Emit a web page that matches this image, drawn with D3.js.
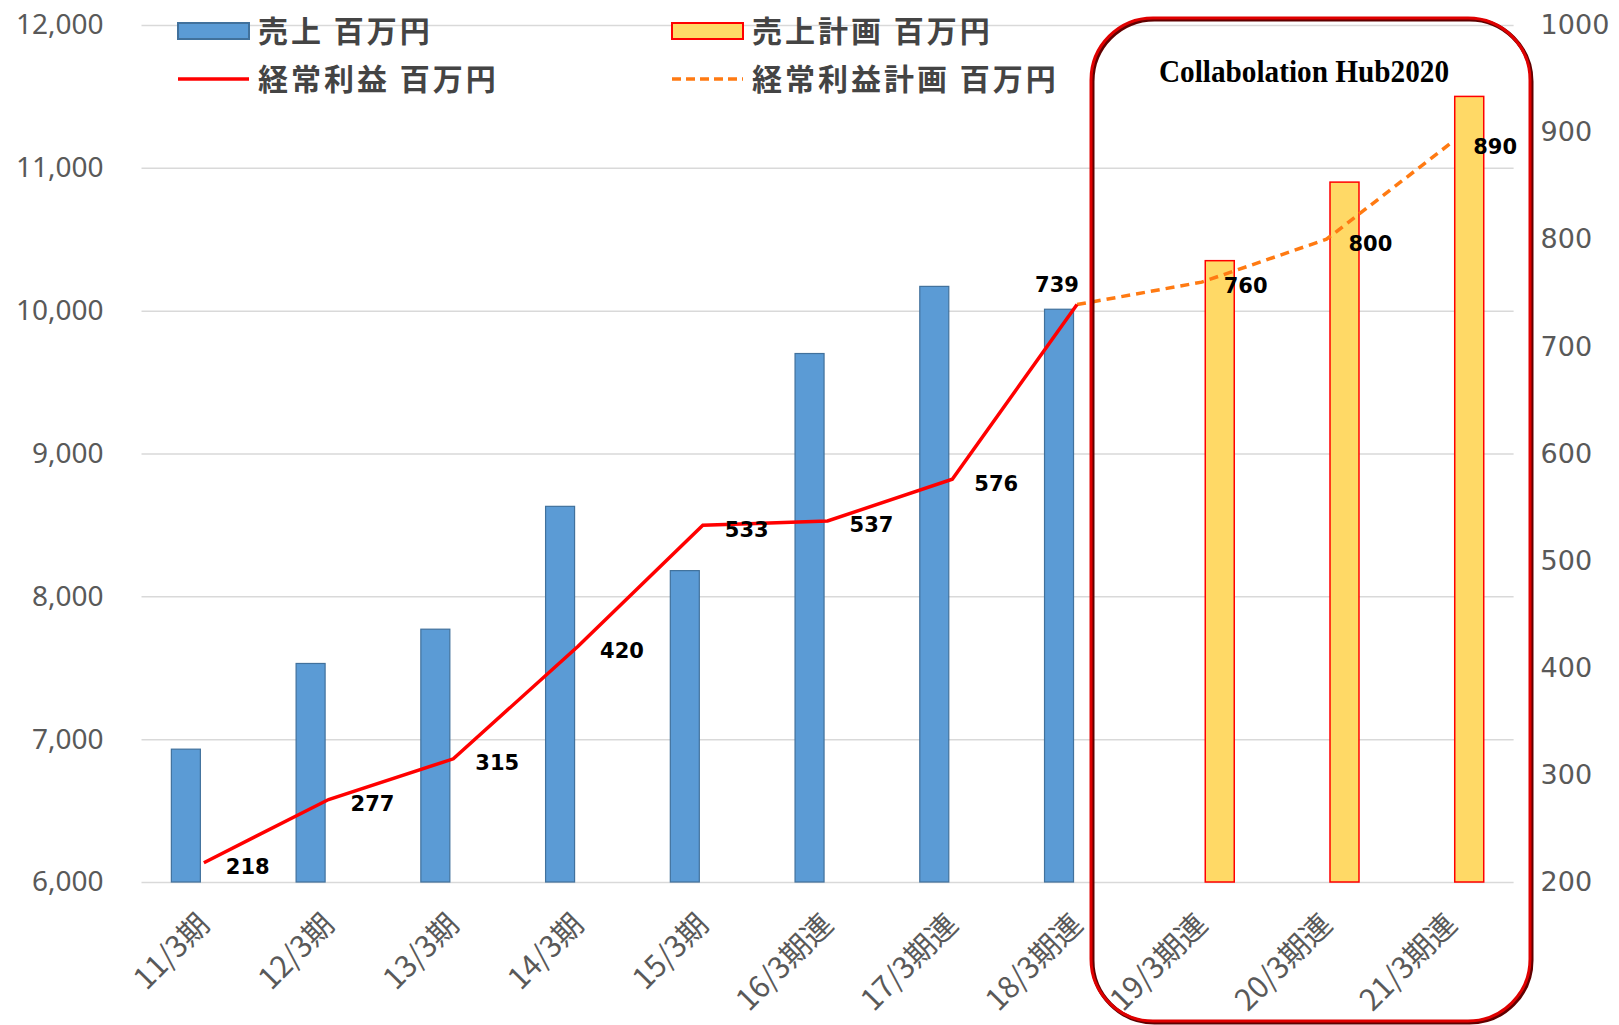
<!DOCTYPE html>
<html><head><meta charset="utf-8">
<script src="https://cdn.jsdelivr.net/npm/d3@7"></script>
<style>
html,body{margin:0;padding:0;background:#fff;}
svg{display:block;}
</style></head>
<body>
<svg id="chart" width="1619" height="1025"></svg>
<script>
const categories = ["11/3期","12/3期","13/3期","14/3期","15/3期","16/3期連","17/3期連","18/3期連","19/3期連","20/3期連","21/3期連"];
const sales = [6930, 7530, 7770, 8630, 8180, 9700, 10170, 10010, null, null, null];
const salesPlan = [null, null, null, null, null, null, null, null, 10350, 10900, 11500];
const profit = [218, 277, 315, 420, 533, 537, 576, 739, null, null, null];
const profitPlan = [null, null, null, null, null, null, null, 739, 760, 800, 890];
const leftTicks = [6000, 7000, 8000, 9000, 10000, 11000, 12000];
const rightTicks = [200, 300, 400, 500, 600, 700, 800, 900, 1000];
const legendLabels = ["売上 百万円", "売上計画 百万円", "経常利益 百万円", "経常利益計画 百万円"];
const boxTitle = "Collabolation Hub2020";

const svg = d3.select("#chart");
const L = 141.5, R = 1513.6, T = 25, B = 882;
const x = d3.scaleBand().domain(categories).range([L, R]).padding(0);
const yL = d3.scaleLinear().domain([6000, 12000]).range([B, T]);
const yR = d3.scaleLinear().domain([200, 1000]).range([B, T]);
const cx = c => x(c) + x.bandwidth() / 2;
const tickFont = "'Noto Sans CJK JP','Noto Sans',sans-serif";
const gray = "#595959";

// gridlines
const grid = svg.append("g").attr("transform", `translate(${L},0)`)
  .call(d3.axisLeft(yL).tickValues(leftTicks).tickSize(-(R - L)).tickFormat(""));
grid.select(".domain").remove();
grid.selectAll("line").attr("stroke", "#d9d9d9").attr("stroke-width", 1.5);

// left axis labels
const gL = svg.append("g").attr("transform", `translate(${L},0)`)
  .call(d3.axisLeft(yL).tickValues(leftTicks).tickSize(0).tickPadding(38).tickFormat(d3.format(",")));
gL.select(".domain").remove();
gL.selectAll("text").attr("fill", gray).attr("font-size", 28).attr("font-family", "'Noto Sans',sans-serif");

// right axis labels
const gR = svg.append("g").attr("transform", `translate(${R},0)`)
  .call(d3.axisRight(yR).tickValues(rightTicks).tickSize(0).tickPadding(27).tickFormat(d3.format("d")));
gR.select(".domain").remove();
gR.selectAll("text").attr("fill", gray).attr("font-size", 27).attr("font-family", "'DejaVu Sans',sans-serif");

// x axis labels
const gX = svg.append("g").attr("transform", `translate(0,${B})`)
  .call(d3.axisBottom(x).tickSize(0).tickPadding(0));
gX.select(".domain").remove();
gX.selectAll(".tick text")
  .attr("fill", gray).attr("font-size", 30).attr("font-family", tickFont)
  .attr("text-anchor", "end").attr("dy", "0.35em")
  .attr("transform", "translate(0,37) rotate(-45)");

// bars
const bw = 29, off = 18;
svg.append("g").selectAll("rect").data(categories.filter((c, i) => sales[i] != null))
  .join("rect")
  .attr("x", c => cx(c) - off - bw / 2)
  .attr("y", c => yL(sales[categories.indexOf(c)]))
  .attr("width", bw)
  .attr("height", c => B - yL(sales[categories.indexOf(c)]))
  .attr("fill", "#5b9bd5").attr("stroke", "#41719c").attr("stroke-width", 1.2);
svg.append("g").selectAll("rect").data(categories.filter((c, i) => salesPlan[i] != null))
  .join("rect")
  .attr("x", c => cx(c) + off - bw / 2)
  .attr("y", c => yL(salesPlan[categories.indexOf(c)]))
  .attr("width", bw)
  .attr("height", c => B - yL(salesPlan[categories.indexOf(c)]))
  .attr("fill", "#ffd966").attr("stroke", "#ff0000").attr("stroke-width", 1.5);

// lines
const lineGen = d3.line().defined(d => d.v != null).x(d => cx(d.c)).y(d => yR(d.v));
svg.append("path").datum(categories.map((c, i) => ({c, v: profitPlan[i]})))
  .attr("d", lineGen).attr("fill", "none").attr("stroke", "#ff7a12").attr("stroke-width", 3.5)
  .attr("stroke-dasharray", "9,6");
svg.append("path").datum(categories.map((c, i) => ({c, v: profit[i]})))
  .attr("d", lineGen).attr("fill", "none").attr("stroke", "#ff0000").attr("stroke-width", 3.5);

// data labels
const labFont = "'DejaVu Sans','Noto Sans',sans-serif";
const labels = [];
categories.forEach((c, i) => {
  if (profit[i] != null && i < 7) labels.push({c, v: profit[i], pos: "right"});
  if (i === 7) labels.push({c, v: profit[i], pos: "above"});
  if (i > 7) labels.push({c, v: profitPlan[i], pos: "right"});
});
svg.append("g").selectAll("text").data(labels).join("text")
  .attr("x", d => d.pos === "right" ? cx(d.c) + 22 : cx(d.c) - 20)
  .attr("y", d => d.pos === "right" ? yR(d.v) + 4 : yR(d.v) - 20)
  .attr("dy", "0.35em")
  .attr("text-anchor", d => d.pos === "right" ? "start" : "middle")
  .attr("font-family", labFont).attr("font-weight", "bold").attr("font-size", 21)
  .attr("fill", "#000").text(d => d.v);

// rounded box
const bx = 1091, by = 18, bwid = 439, bh = 1003, rr = 62;
svg.append("rect").attr("x", bx + 1.5).attr("y", by + 1.5).attr("width", bwid).attr("height", bh).attr("rx", rr)
  .attr("fill", "none").attr("stroke", "#600000").attr("stroke-width", 4);
svg.append("rect").attr("x", bx).attr("y", by).attr("width", bwid).attr("height", bh).attr("rx", rr)
  .attr("fill", "none").attr("stroke", "#e00000").attr("stroke-width", 3);
svg.append("text").attr("x", 1304).attr("y", 82)
  .attr("text-anchor", "middle").attr("font-family", "'Liberation Serif',serif")
  .attr("font-weight", "bold").attr("font-size", 32)
  .attr("textLength", 290).attr("lengthAdjust", "spacingAndGlyphs")
  .attr("fill", "#000").text(boxTitle);

// legend
const legFont = "'Noto Sans CJK JP',sans-serif";
const leg = [
  {t: legendLabels[0], x: 178, y: 31, type: "rect", fill: "#5b9bd5", stroke: "#41719c"},
  {t: legendLabels[1], x: 672, y: 31, type: "rect", fill: "#ffd966", stroke: "#ff0000"},
  {t: legendLabels[2], x: 178, y: 79, type: "line", stroke: "#ff0000"},
  {t: legendLabels[3], x: 672, y: 79, type: "dash", stroke: "#ff7a12"}
];
const lg = svg.append("g");
leg.forEach(d => {
  if (d.type === "rect") {
    lg.append("rect").attr("x", d.x).attr("y", d.y - 8).attr("width", 71).attr("height", 16)
      .attr("fill", d.fill).attr("stroke", d.stroke).attr("stroke-width", 2);
  } else {
    lg.append("line").attr("x1", d.x).attr("x2", d.x + 71).attr("y1", d.y).attr("y2", d.y)
      .attr("stroke", d.stroke).attr("stroke-width", 3.5)
      .attr("stroke-dasharray", d.type === "dash" ? "9,5" : null);
  }
  lg.append("text").attr("x", d.x + 80).attr("y", d.y).attr("dy", "0.36em")
    .attr("font-family", legFont).attr("font-weight", "bold").attr("font-size", 30)
    .attr("letter-spacing", "3px")
    .attr("fill", "#444").text(d.t);
});
</script>
</body></html>
